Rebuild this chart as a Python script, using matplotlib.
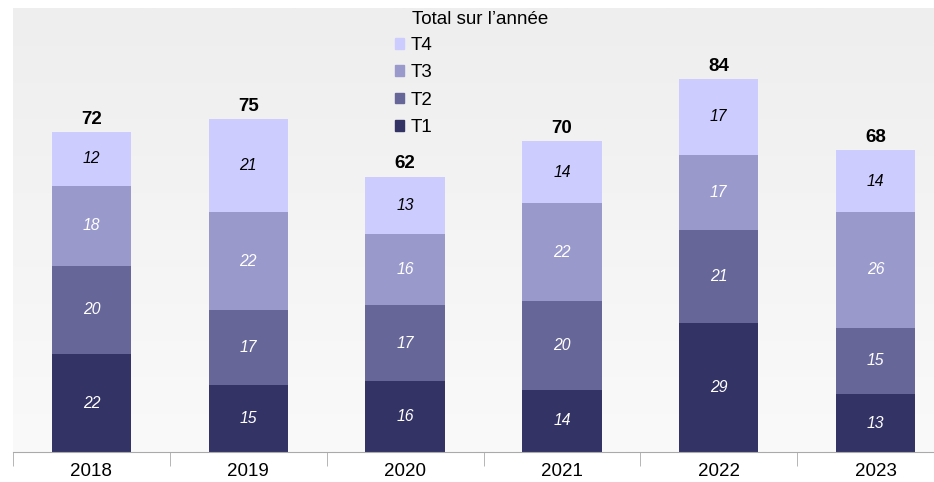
import numpy as np
import matplotlib
matplotlib.use("Agg")
import matplotlib.pyplot as plt
from matplotlib.patches import Patch

plt.rcParams['font.family'] = ['Liberation Sans', 'DejaVu Sans']

# Données
annees = ['2018', '2019', '2020', '2021', '2022', '2023']
t1 = [22, 15, 16, 14, 29, 13]
t2 = [20, 17, 17, 20, 21, 15]
t3 = [18, 22, 16, 22, 17, 26]
t4 = [12, 21, 13, 14, 17, 14]
series = ['T1', 'T2', 'T3', 'T4']
couleurs = ['#333366', '#666699', '#9999cc', '#ccccff']
couleurs_txt = ['white', 'white', 'white', 'black']

W, H = 934, 482
fig = plt.figure(figsize=(W / 100, H / 100), dpi=100)
ax = fig.add_axes([13 / W, 30 / H, 941 / W, 444 / H])

# fond en dégradé
grad = np.linspace(0, 1, 256).reshape(-1, 1)
ax.imshow(grad, cmap=matplotlib.colors.LinearSegmentedColormap.from_list('g', ['#fafafa', '#eeeeee']),
          extent=[-0.5, 5.5, 0, 100], aspect='auto', origin='lower', zorder=0)

x = np.arange(len(annees))
bas = np.zeros(len(annees))
for vals, nom, c, ct in zip([t1, t2, t3, t4], series, couleurs, couleurs_txt):
    ax.bar(x, vals, width=0.505, bottom=bas, color=c, label=nom, zorder=2)
    for xi, v, b0 in zip(x, vals, bas):
        ax.text(xi, b0 + v / 2, str(v), ha='center', va='center', color=ct,
                fontsize=11.3, fontstyle='italic', zorder=3)
    bas += np.array(vals)

totaux = bas
for xi, t in zip(x, totaux):
    ax.text(xi, t + 1.0, str(int(t)), ha='center', va='bottom', fontsize=13.5,
            fontweight='bold', zorder=3)

ax.set_xlim(-0.5, 5.5)
ax.set_ylim(0, 100)
ax.set_xticks(x)
ax.set_xticklabels(annees, fontsize=13.5)
ax.set_xticks(np.arange(-0.5, 6, 1), minor=True)
ax.tick_params(axis='x', which='major', length=0, pad=8)
ax.tick_params(axis='x', which='minor', length=10, color='#aaaaaa')
ax.set_yticks([])
for s in ['top', 'right', 'left']:
    ax.spines[s].set_visible(False)
ax.spines['bottom'].set_color('#aaaaaa')

# Légende
poignees = [Patch(color=c) for c in couleurs][::-1]
leg = fig.legend(poignees, series[::-1], loc='upper left',
                 bbox_to_anchor=(395 / W, 1 - 37 / H), frameon=False, fontsize=13.5,
                 handlelength=0.5, handleheight=0.5, handletextpad=0.35,
                 labelspacing=0.55, borderpad=0, borderaxespad=0)
fig.text(412 / W, 1 - 19 / H, 'Total sur l\u2019année', fontsize=13.5, va='center', ha='left')

fig.savefig('out.png', dpi=100)
